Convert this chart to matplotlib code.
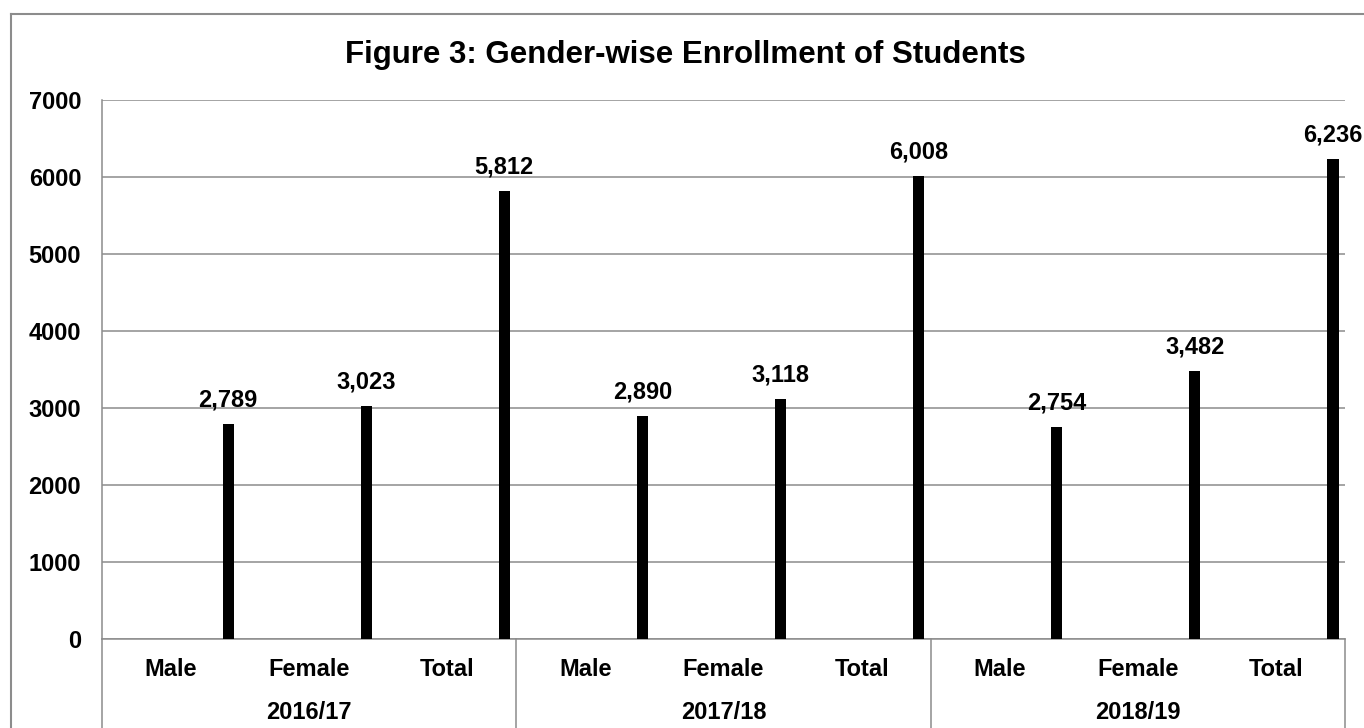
import matplotlib
matplotlib.use("Agg")
import matplotlib.pyplot as plt
from matplotlib.lines import Line2D
import numpy as np

plt.rcParams['font.family'] = ['Liberation Sans', 'DejaVu Sans']
plt.rcParams['font.weight'] = 'bold'

years = ["2016/17", "2017/18", "2018/19"]
categories = ["Male", "Female", "Total"]
values = [2789, 3023, 5812, 2890, 3118, 6008, 2754, 3482, 6236]
yticks = [0, 1000, 2000, 3000, 4000, 5000, 6000, 7000]
title = "Figure 3: Gender-wise Enrollment of Students"

W, H = 1364, 728
fig = plt.figure(figsize=(W / 100, H / 100), dpi=100)
ax = fig.add_axes([102 / W, 1 - 639 / H, (1345 - 102) / W, (639 - 100) / H])

grey = '#8c8c8c'
fs = 17
n = len(values)
x = np.arange(n)
offset = 0.413
ax.bar(x + offset, values, width=0.08, color='black', zorder=3)

for xi, v in zip(x, values):
    ax.annotate(f"{v:,}", (xi + offset, v), xytext=(0, 9), textcoords='offset points',
                ha='center', va='bottom', fontsize=fs, fontweight='bold', zorder=4)

ax.set_xlim(-0.5, n - 0.5)
ax.set_ylim(0, 7000)
ax.set_yticks(yticks)
ax.set_yticklabels([str(t) for t in yticks], fontsize=fs, fontweight='bold')
ax.tick_params(axis='y', length=0, pad=15)
ax.yaxis.grid(True, color=grey, linewidth=1.1, zorder=0)
ax.set_axisbelow(True)

ax.set_xticks(x)
ax.set_xticklabels(categories * len(years), fontsize=fs, fontweight='bold')
ax.tick_params(axis='x', length=0, pad=13.5)

for s in ['top', 'right']:
    ax.spines[s].set_visible(False)
for s in ['left', 'bottom']:
    ax.spines[s].set_color(grey)
    ax.spines[s].set_linewidth(1.1)

ncat = len(categories)
for g, yr in enumerate(years):
    cx = g * ncat + (ncat - 1) / 2
    ax.text(cx, -0.137, yr, transform=ax.get_xaxis_transform(), ha='center', va='center',
            fontsize=fs, fontweight='bold')
for g in range(len(years) + 1):
    sx = g * ncat - 0.5
    ax.plot([sx, sx], [0, -0.3], transform=ax.get_xaxis_transform(), color=grey,
            linewidth=1.1, clip_on=False)

fig.text(685 / W, 1 - 55 / H, title, ha='center', va='center', fontsize=22.5, fontweight='bold')

fig.add_artist(Line2D([11 / W, 1.0], [1 - 14 / H, 1 - 14 / H], color=grey, linewidth=1.5,
                      transform=fig.transFigure))
fig.add_artist(Line2D([11 / W, 11 / W], [1 - 14 / H, 0.0], color=grey, linewidth=1.5,
                      transform=fig.transFigure))

fig.savefig("out.png", dpi=100)
